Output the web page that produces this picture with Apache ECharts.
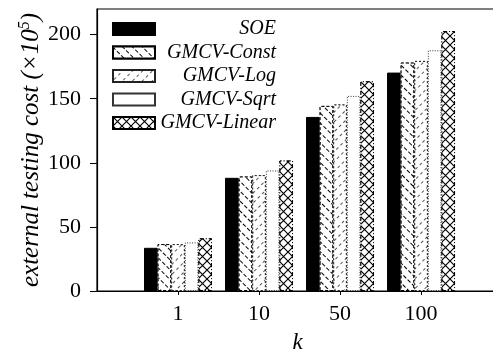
<!DOCTYPE html>
<html>
<head>
<meta charset="utf-8">
<script src="https://cdn.jsdelivr.net/npm/echarts@6/dist/echarts.min.js"></script>
<style>
  html, body { margin: 0; padding: 0; background: #fff; }
  #chart { width: 493px; height: 351px; }
</style>
</head>
<body>
<div id="chart"></div>
<script>
// k values and external testing cost (x10^5)
const categories = ['1', '10', '50', '100'];
const soe = [33.7, 88.3, 135.8, 170.4];
const gmcvConst = [36.6, 89.3, 144.4, 178.2];
const gmcvLog = [36.6, 90.4, 145.5, 179.5];
const gmcvSqrt = [37.9, 94.0, 152.2, 187.8];
const gmcvLinear = [41.1, 101.8, 163.6, 202.8];
const yTicks = [0, 50, 100, 150, 200];

const serif = "'Liberation Serif', 'Times New Roman', serif";
const toPoints = arr => arr.map((v, i) => [i + 1, v]);

function barSeries(name, values, itemStyle) {
  return {
    name: name,
    type: 'bar',
    data: toPoints(values),
    barWidth: 13.6,
    barGap: '0%',
    itemStyle: itemStyle
  };
}

const myChart = echarts.init(document.getElementById('chart'));
myChart.setOption({
  animation: false,
  grid: {
    left: 97, top: 9, bottom: 60, right: -5,
    outerBoundsMode: 'none',
    containLabel: false,
    show: true, borderColor: '#000', borderWidth: 1.2
  },
  legend: {
    orient: 'vertical',
    left: 107,
    top: 14,
    icon: 'rect',
    itemWidth: 42,
    itemHeight: 12,
    itemGap: 3.5,
    formatter: name => '{t|' + name + '}',
    textStyle: {
      rich: {
        t: {
          width: 116, align: 'right', fontFamily: serif, fontStyle: 'italic',
          fontSize: 20, lineHeight: 20, color: '#000'
        }
      }
    }
  },
  xAxis: {
    type: 'value',
    min: 0,
    max: 4.95,
    interval: 1,
    name: 'k',
    nameLocation: 'middle',
    nameGap: 40,
    nameTextStyle: { fontFamily: serif, fontStyle: 'italic', fontSize: 23, color: '#000' },
    splitLine: { show: false },
    axisLine: { lineStyle: { color: '#000', width: 1.2 } },
    axisTick: { length: 4, customValues: [1, 2, 3, 4], lineStyle: { color: '#000' } },
    axisLabel: {
      customValues: [1, 2, 3, 4],
      formatter: v => categories[Math.round(v) - 1] || '',
      margin: 12, fontFamily: serif, fontSize: 22, color: '#000'
    }
  },
  yAxis: {
    type: 'value',
    min: 0,
    max: 220,
    interval: 50,
    name: '{t|external testing cost (×10}{s|5}{t|)}',
    nameLocation: 'middle',
    nameGap: 52,
    nameMoveOverlap: false,
    nameRotate: 90,
    nameTextStyle: {
      rich: {
        t: { fontFamily: serif, fontStyle: 'italic', fontSize: 25, color: '#000', lineHeight: 28 },
        s: { fontFamily: serif, fontStyle: 'italic', fontSize: 16, color: '#000', verticalAlign: 'top', lineHeight: 28 }
      }
    },
    splitLine: { show: false },
    axisLine: { show: true, lineStyle: { color: '#000', width: 1.2 } },
    axisTick: { show: true, length: 7, inside: false, customValues: yTicks, lineStyle: { color: '#000' } },
    axisLabel: {
      customValues: yTicks,
      margin: 16, fontFamily: serif, fontSize: 22, color: '#000'
    }
  },
  series: [
    barSeries('SOE', soe, {
      color: '#000', borderColor: '#000', borderWidth: 1
    }),
    barSeries('GMCV-Const', gmcvConst, {
      color: '#fff', borderColor: '#000', borderWidth: 1, borderType: [3, 2],
      decal: {
        symbol: 'rect', symbolSize: 1, color: '#000', backgroundColor: '#fff',
        dashArrayX: [[4, 2]], dashArrayY: [1, 6], rotation: Math.PI / 4
      }
    }),
    barSeries('GMCV-Log', gmcvLog, {
      color: '#fff', borderColor: '#222', borderWidth: 1, borderType: [2, 2],
      decal: {
        symbol: 'rect', symbolSize: 1, color: '#555', backgroundColor: '#fff',
        dashArrayX: [[3, 3]], dashArrayY: [1, 6], rotation: -Math.PI / 4
      }
    }),
    barSeries('GMCV-Sqrt', gmcvSqrt, {
      color: '#fff', borderColor: '#333', borderWidth: 1, borderType: [1, 1.5]
    }),
    barSeries('GMCV-Linear', gmcvLinear, {
      color: '#fff', borderColor: '#000', borderWidth: 1, borderType: [4, 2, 1, 2],
      decal: {
        symbol: 'path://M0,0L0.9,0L10,9.1L10,10L9.1,10L0,0.9ZM9.1,0L10,0L10,0.9L0.9,10L0,10L0,9.1Z',
        symbolSize: 1, color: '#000', backgroundColor: '#fff',
        dashArrayX: [[9, 0]], dashArrayY: [9, 0], rotation: 0
      }
    })
  ]
});
</script>
</body>
</html>
